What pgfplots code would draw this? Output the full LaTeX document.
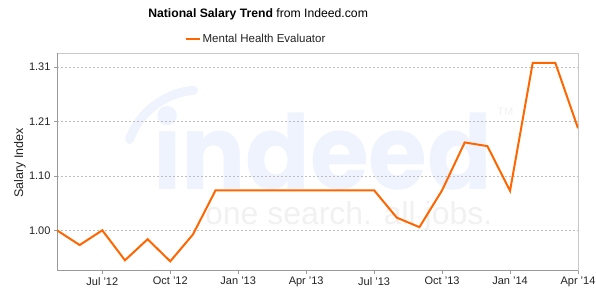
\documentclass[border=0pt]{standalone}
\usepackage{fontspec}
\setmainfont{Liberation Sans}
\newfontfamily\logofont{Poppins}
\usepackage{graphicx}
\usepackage{pgfplots}
\pgfplotsset{compat=1.18}
\definecolor{lineorange}{HTML}{FF6600}
\definecolor{wmblue}{HTML}{EEF3FD}
\definecolor{wmgray}{HTML}{F1F1F1}
\definecolor{boxgray}{HTML}{C8C8C8}
\definecolor{axgray}{HTML}{9A9A9A}
\definecolor{gridgray}{HTML}{BDBDBD}
\definecolor{txt}{HTML}{222222}
\begin{document}
\begin{tikzpicture}
\begin{axis}[
  set layers,
  scale only axis,
  width=521pt, height=217.7pt,
  xmin=0, xmax=23,
  ymin=0.9232, ymax=1.337,
  xtick={2,5,8,11,14,17,20,23},
  xticklabels={Jul '12,Oct '12,Jan '13,Apr '13,Jul '13,Oct '13,Jan '14,Apr '14},
  ytick={1.0,1.103333,1.206667,1.31},
  yticklabels={1.00,1.10,1.21,1.31},
  xtick pos=lower, ytick pos=left,
  tick align=outside,
  major tick length=3pt,
  tick style={axgray, line width=0.6pt},
  axis line style={boxgray, line width=0.8pt},
  ymajorgrids,
  grid style={gridgray, dash pattern=on 2pt off 2pt, line width=0.5pt},
  tick label style={font=\fontsize{11}{12}\selectfont, text=txt},
  every axis y label/.style={at={(axis description cs:-0.071,0.495)}, rotate=90, anchor=center, font=\fontsize{12.5}{14}\selectfont, text=txt},
  ylabel={Salary Index},
  title={\textbf{National Salary Trend} from Indeed.com},
  title style={at={(axis description cs:0.386,1.149)}, anchor=center, font=\fontsize{12.2}{14}\selectfont, text=black},
  legend style={at={(axis description cs:0.382,1.064)}, anchor=center, draw=none, fill=none, font=\fontsize{11.5}{13}\selectfont, text=txt, inner sep=0pt},
  legend image code/.code={\draw[#1] (0pt,0pt) -- (14pt,0pt);},
]
\begin{pgfonlayer}{axis background}
  \node[anchor=base west, inner sep=0pt, text=wmblue] at (rel axis cs:0.184,0.371) {\resizebox{339pt}{83pt}{\logofont\bfseries indeed}};
  \node[anchor=base west, inner sep=0pt, text=wmgray] at (rel axis cs:0.284,0.210) {\resizebox{287pt}{23pt}{one search. all jobs.}};
  \node[anchor=west, inner sep=0pt, text=wmgray, font=\fontsize{11}{12}\selectfont] at (rel axis cs:0.845,0.729) {TM};
  \draw[wmblue, line width=9pt, line cap=round] ([shift={(160:75pt)}]rel axis cs:0.2745,0.4855) arc[start angle=160, end angle=95, radius=75pt];
\end{pgfonlayer}
\begin{pgfonlayer}{axis lines}
  \draw[axgray, line width=0.8pt] (rel axis cs:0,1) -- (rel axis cs:0,0) -- (rel axis cs:1,0);
\end{pgfonlayer}
\addplot[lineorange, line width=2pt, line join=miter] coordinates {
 (0,1.000) (1,0.972) (2,1.000) (3,0.943) (4,0.983) (5,0.941) (6,0.992)
 (7,1.076) (8,1.076) (9,1.076) (10,1.076) (11,1.076) (12,1.076) (13,1.076) (14,1.076)
 (15,1.024) (16,1.006) (17,1.076) (18,1.167) (19,1.160) (20,1.075)
 (21,1.318) (22,1.318) (23,1.194)
};
\addlegendentry{Mental Health Evaluator}
\end{axis}
\pgfresetboundingbox
\path[use as bounding box] (-57pt,-25.3pt) rectangle (539pt,270.7pt);
\end{tikzpicture}
\end{document}
